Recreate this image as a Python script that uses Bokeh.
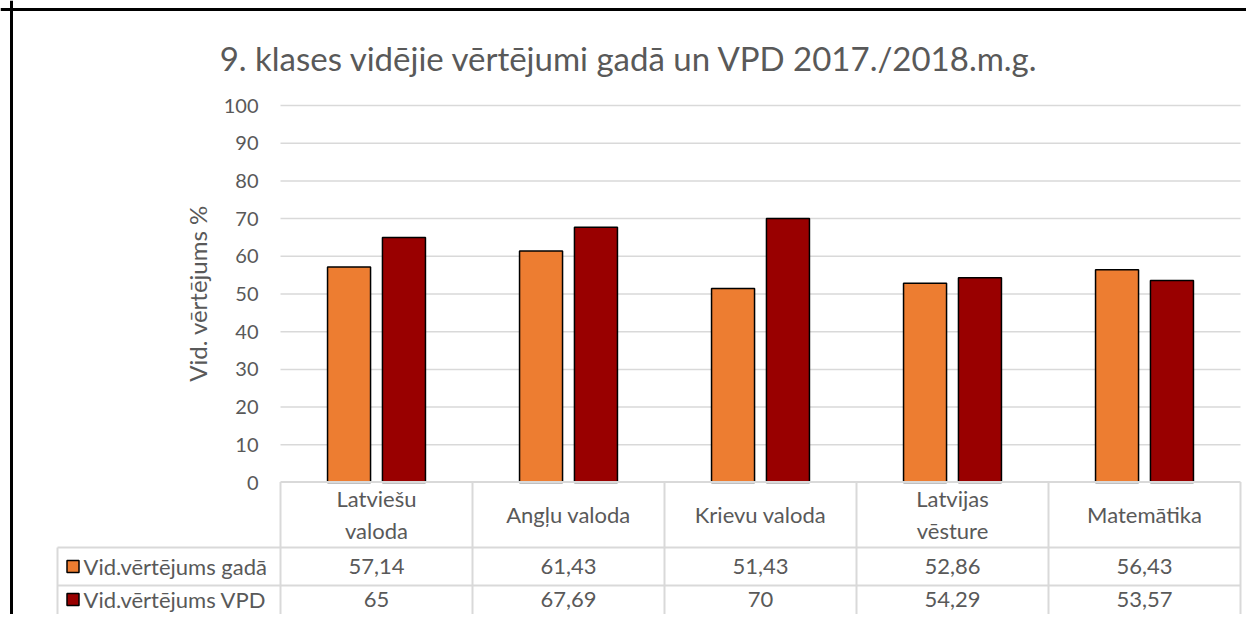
from bokeh.plotting import figure
from bokeh.models import Range1d, Span
from bokeh.core.properties import value
from bokeh.embed import file_html
from bokeh.resources import INLINE

# ---------------- data ----------------
title_text = "9. klases vidējie vērtējumi gadā un VPD 2017./2018.m.g."
y_title = "Vid. vērtējums %"
categories = ["Latviešu\nvaloda", "Angļu valoda", "Krievu valoda", "Latvijas\nvēsture", "Matemātika"]
series_names = ["Vid.vērtējums gadā", "Vid.vērtējums VPD"]
gada = [57.14, 61.43, 51.43, 52.86, 56.43]
vpd = [65, 67.69, 70, 54.29, 53.57]
y_ticks = [0, 10, 20, 30, 40, 50, 60, 70, 80, 90, 100]
colors = ["#ED7D31", "#990000"]

# ---------------- geometry (picture pixels -> data) ----------------
W, H = 1246, 614
PX_X = 192.0            # pixels per category
PX_Y = 3.77             # pixels per value unit
X0_PAGE, Y0_PAGE = 280, 482   # picture pixel of (x=0, y=0)
ORG = 0                 # picture pixel of canvas origin

def dx(px):  # picture x pixel -> data x
    return (px - X0_PAGE) / PX_X

def dy(py):  # picture y pixel -> data y
    return (Y0_PAGE - py) / PX_Y

x_start = dx(ORG); x_end = dx(ORG + W)
y_end = dy(ORG); y_start = dy(ORG + H)

p = figure(width=W, height=H, output_backend="svg", toolbar_location=None,
           x_range=Range1d(x_start, x_end), y_range=Range1d(y_start, y_end),
           x_axis_type=None, y_axis_type=None, min_border=0)
p.outline_line_color = None
p.grid.visible = False
p.background_fill_color = "white"
p.border_fill_color = "white"

TXT = "#595959"
GRID = "#D9D9D9"
FONT = value("Lato")
n = len(categories)

# chart border (top & left)
p.add_layout(Span(location=dy(9), dimension="width", line_color="black", line_width=3))
p.add_layout(Span(location=dx(11), dimension="height", line_color="black", line_width=3))

# gridlines
gy = [t for t in y_ticks if t > 0]
p.segment(x0=[0] * len(gy), y0=gy, x1=[n] * len(gy), y1=gy, line_color=GRID, line_width=1.5)

# bars
off = 0.143
bw = 0.224
p.vbar(x=[i + 0.5 - off for i in range(n)], top=gada, bottom=0, width=bw,
       fill_color=colors[0], line_color="black", line_width=1.5)
p.vbar(x=[i + 0.5 + off for i in range(n)], top=vpd, bottom=0, width=bw,
       fill_color=colors[1], line_color="black", line_width=1.5)

# y tick labels
p.text(x=[dx(258)] * len(y_ticks), y=y_ticks, text=[str(t) for t in y_ticks],
       text_align="right", text_baseline="middle", text_font=FONT,
       text_font_size="20px", text_color=TXT)

# y axis title
p.text(x=[dx(197)], y=[dy(293)], text=[y_title], angle=1.5708,
       text_align="center", text_baseline="middle", text_font=FONT,
       text_font_size="24px", text_color=TXT)

# title
p.text(x=[dx(629)], y=[dy(57)], text=[title_text], text_align="center",
       text_baseline="middle", text_font=FONT, text_font_size="33px", text_color=TXT)

# ---------------- data table ----------------
r_top, r1, r2, r_bot = dy(481.5), dy(547), dy(585), y_start
leg_left = dx(57)
# horizontal lines
p.segment(x0=[0, leg_left, leg_left], y0=[r_top, r1, r2], x1=[n, n, n], y1=[r_top, r1, r2],
          line_color=GRID, line_width=2)
# vertical lines
vx = list(range(n + 1))
p.segment(x0=vx, y0=[r_top] * len(vx), x1=vx, y1=[r_bot] * len(vx), line_color=GRID, line_width=2)
p.segment(x0=[leg_left], y0=[r1], x1=[leg_left], y1=[r_bot], line_color=GRID, line_width=2)

TBL_FS = "22px"
# category labels
p.text(x=[i + 0.5 for i in range(n)], y=[dy(514)] * n, text=categories,
       text_align="center", text_baseline="middle", text_font=FONT,
       text_font_size=TBL_FS, text_color=TXT, text_line_height=1.2)

def fmt(v):
    return ("%g" % v).replace(".", ",")

row_y = [dy(566), dy(599)]
for k, vals in enumerate([gada, vpd]):
    p.text(x=[i + 0.5 for i in range(n)], y=[row_y[k]] * n, text=[fmt(v) for v in vals],
           text_align="center", text_baseline="middle", text_font=FONT,
           text_font_size=TBL_FS, text_color=TXT)

# legend keys + labels
p.rect(x=[dx(72.5)] * 2, y=row_y, width=12, height=12, width_units="screen", height_units="screen",
       fill_color=colors, line_color="black", line_width=1.5)
p.text(x=[dx(83)] * 2, y=row_y, text=series_names, text_align="left", text_baseline="middle",
       text_font=FONT, text_font_size=TBL_FS, text_color=TXT)

open("out.html", "w").write(file_html(p, INLINE))
